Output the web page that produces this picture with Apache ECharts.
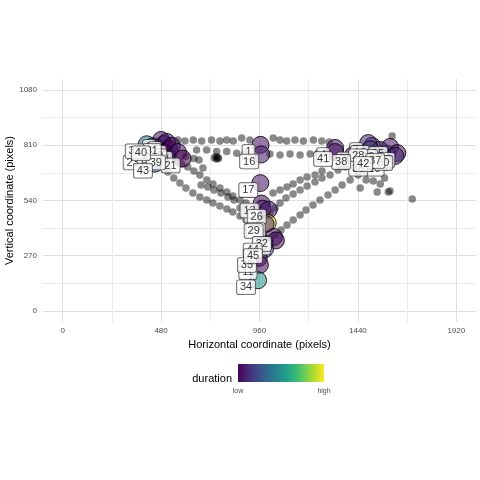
<!DOCTYPE html>
<html>
<head>
<meta charset="utf-8">
<script src="https://cdn.jsdelivr.net/npm/echarts@6/dist/echarts.min.js"></script>
<style>
  html, body { margin: 0; padding: 0; background: #fff; }
  #chart { width: 480px; height: 480px; }
</style>
</head>
<body>
<div id="chart"></div>
<script>
// raw gaze samples (screen pixels)
var gazeX = [
  562, 596, 637, 678, 726, 767, 800, 832, 873, 913, 1027, 1060, 1093, 1133, 1174, 1223, 1264, 1300, 1607,
  653, 702, 751, 800, 849, 889, 1011, 1060, 1109, 1158, 1207, 1246, 1290,
  740, 751, 757, 748, 760,
  640, 665, 684, 600,
  489, 513, 542, 572, 601, 635, 669, 703, 733, 767, 801, 830, 865, 894,
  580, 610, 640, 669, 703, 733, 767, 801, 830, 865, 894,
  675, 708, 738, 772, 806, 836, 899, 865,
  1475, 1441, 1402, 1363, 1329, 1294, 1255, 1221, 1187, 1158, 1124, 1094, 1065, 1036, 1011,
  1378, 1343, 1304, 1265, 1231, 1192, 1158, 1124, 1089, 1060, 1036, 1011,
  1026, 1060, 1094, 1124, 1158, 1192, 1231, 1265,
  1515, 1549, 1597, 1534, 1588, 1705, 1451, 1480, 1570
];
var gazeY = [
  836, 831, 836, 831, 836, 831, 836, 831, 846, 836, 846, 836, 831, 836, 831, 836, 831, 826, 855,
  787, 787, 779, 779, 771, 771, 767, 762, 767, 762, 767, 772, 777,
  748, 743, 750, 755, 745,
  745, 738, 699, 755,
  714, 679, 650, 626, 601, 577, 557, 543, 528, 513, 499, 484, 464, 445,
  720, 704, 684, 665, 640, 621, 601, 582, 562, 543, 528,
  616, 606, 591, 577, 557, 543, 484, 503,
  689, 665, 640, 616, 591, 567, 543, 518, 494, 469, 445, 420, 396, 371, 347,
  704, 689, 665, 650, 631, 611, 591, 572, 552, 528, 503, 479,
  577, 591, 606, 621, 640, 655, 665, 684,
  635, 621, 587, 582, 582, 547, 601, 640, 650
];

// fixations: index label, position, duration (ms)
var fixLabel = [33, 40, 43, 23, 31, 18, 2, 3, 39, 19, 14, 6, 9, 21,
  1, 16, 17, 13, 5, 26, 27, 29, 32, 8, 44, 45, 35, 11, 34,
  4, 41, 38, 25, 36, 24, 12, 7, 10, 22, 28, 37, 42, 15, 20, 30];
var fixX = [410, 440, 450, 400, 493, 464, 480, 508, 513, 520, 493, 532, 562, 585,
  965, 968, 964, 970, 975, 1005, 1000, 990, 1030, 1040, 985, 987, 957, 962, 953,
  1329, 1329, 1417, 1440, 1500, 1514, 1509, 1490, 1580, 1549, 1500, 1583, 1524, 1597, 1632, 1622];
var fixY = [815, 805, 720, 760, 816, 797, 836, 826, 760, 790, 777, 807, 777, 745,
  812, 765, 625, 525, 500, 495, 430, 425, 362, 345, 330, 303, 259, 225, 150,
  797, 777, 763, 775, 730, 767, 807, 821, 730, 787, 790, 767, 753, 802, 772, 758];
var fixDuration = [400, 420, 330, 200, 220, 190, 150, 170, 160, 150, 140, 130, 160, 120,
  150, 180, 160, 140, 160, 170, 900, 200, 190, 130, 260, 300, 150, 140, 520,
  150, 160, 140, 170, 150, 230, 210, 200, 180, 190, 260, 280, 300, 170, 150, 200];

var xTicks = [0, 480, 960, 1440, 1920];
var yTicks = [0, 270, 540, 810, 1080];

var viridis = ['#440154', '#482878', '#3E4A89', '#31688E', '#26828E',
  '#1F9E89', '#35B779', '#6DCD59', '#B4DE2C', '#FDE725'];

var gazeData = gazeX.map(function (x, i) { return [x, gazeY[i]]; });
var fixData = fixX.map(function (x, i) { return [x, fixY[i], fixDuration[i], fixLabel[i]]; });
// labels are stacked in fixation order, later ones on top
var labelData = fixData.slice().sort(function (a, b) { return a[3] - b[3]; });

// grid lines every 240 / 135 drawn through a repeating colour list on fine ticks
var none = 'rgba(0,0,0,0)';
var major = '#dedede', minor = '#ececec';
var gridColors = [none, none, major, none, none, none, none, minor, none, none];
var font = '"Liberation Sans", Arial, sans-serif';

var chart = echarts.init(document.getElementById('chart'));
chart.setOption({
  animation: false,
  backgroundColor: '#fff',
  grid: { left: 43, right: 4, top: 79, bottom: 158, outerBoundsMode: 'none', containLabel: false },
  xAxis: {
    type: 'value', min: -96, max: 2016, interval: 48,
    axisLine: { show: false }, axisTick: { show: false },
    axisLabel: {
      margin: 5, fontSize: 8, color: '#4d4d4d', fontFamily: font,
      formatter: function (v) { return xTicks.indexOf(v) >= 0 ? String(v) : ''; }
    },
    splitLine: { show: true, lineStyle: { color: gridColors, width: 1 } },
    name: 'Horizontal coordinate (pixels)', nameLocation: 'middle', nameGap: 15,
    nameTextStyle: { fontSize: 11, color: '#000', fontFamily: font }
  },
  yAxis: {
    type: 'value', min: -54, max: 1134, interval: 27,
    axisLine: { show: false }, axisTick: { show: false },
    axisLabel: {
      margin: 6, fontSize: 8, color: '#4d4d4d', fontFamily: font,
      formatter: function (v) { return yTicks.indexOf(v) >= 0 ? String(v) : ''; }
    },
    splitLine: { show: true, lineStyle: { color: gridColors, width: 1 } },
    name: 'Vertical coordinate (pixels)', nameLocation: 'middle', nameGap: 28, nameMoveOverlap: false,
    nameTextStyle: { fontSize: 11, color: '#000', fontFamily: font }
  },
  visualMap: {
    show: false, type: 'continuous', seriesIndex: 1, dimension: 2,
    min: 120, max: 900,
    inRange: { color: viridis, colorAlpha: 0.7 }
  },
  series: [
    {
      type: 'scatter', data: gazeData, symbolSize: 7.5, silent: true,
      itemStyle: { color: 'rgba(0,0,0,0.58)' }
    },
    {
      type: 'scatter', data: fixData, symbolSize: 17,
      itemStyle: { borderColor: '#000', borderWidth: 1 }
    },
    {
      type: 'scatter', data: labelData, symbolSize: 1, silent: true,
      itemStyle: { color: 'rgba(0,0,0,0)' },
      label: {
        show: true, position: 'inside', offset: [-12, 7],
        formatter: function (p) { return String(p.value[3]); },
        fontSize: 11, color: '#000', fontFamily: font,
        backgroundColor: '#fff', borderColor: '#333', borderWidth: 0.8,
        borderRadius: 2, padding: [2, 3, 1, 3]
      }
    }
  ],
  graphic: [
    {
      type: 'rect', shape: { x: 238, y: 364, width: 86, height: 18 },
      style: {
        fill: new echarts.graphic.LinearGradient(0, 0, 1, 0,
          viridis.map(function (c, i) { return { offset: i / (viridis.length - 1), color: c }; }))
      }
    },
    { type: 'text', x: 232, y: 379, style: { text: 'duration', fill: '#000', font: '11px ' + font, textAlign: 'right', textVerticalAlign: 'middle' } },
    { type: 'text', x: 238, y: 391, style: { text: 'low', fill: '#4d4d4d', font: '7px ' + font, textAlign: 'center', textVerticalAlign: 'middle' } },
    { type: 'text', x: 324, y: 391, style: { text: 'high', fill: '#4d4d4d', font: '7px ' + font, textAlign: 'center', textVerticalAlign: 'middle' } }
  ]
});
</script>
</body>
</html>
